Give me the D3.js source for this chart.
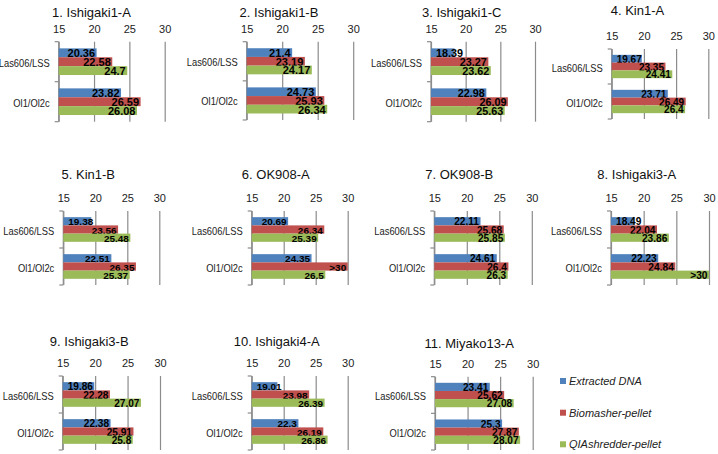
<!DOCTYPE html>
<html>
<head>
<meta charset="utf-8">
<script src="https://cdn.jsdelivr.net/npm/d3@7"></script>
<style>
  body { margin: 0; background: #fff; }
  svg { display: block; }
</style>
</head>
<body>
<svg id="chart" width="718" height="454"></svg>
<script>
// ---- data ----
var panelTitles = ["1. Ishigaki1-A", "2. Ishigaki1-B", "3. Ishigaki1-C", "4. Kin1-A",
  "5. Kin1-B", "6. OK908-A", "7. OK908-B", "8. Ishigaki3-A",
  "9. Ishigaki3-B", "10. Ishigaki4-A", "11. Miyako13-A"];
var categories = ["Las606/LSS", "Ol1/Ol2c"];
var seriesNames = ["Extracted DNA", "Biomasher-pellet", "QIAshredder-pellet"];
var xTicks = [15, 20, 25, 30];

// per panel: [Las606/LSS, Ol1/Ol2c]
var extractedDNA = [[20.36, 23.82], [21.4, 24.73], [18.39, 22.98], [19.67, 23.71],
  [19.38, 22.51], [20.69, 24.35], [22.11, 24.61], [18.49, 22.23],
  [19.86, 22.38], [19.01, 22.3], [23.41, 25.3]];
var biomasher = [[22.58, 26.59], [23.19, 25.93], [23.27, 26.09], [23.35, 26.49],
  [23.56, 26.35], [26.34, ">30"], [25.68, 26.4], [22.04, 24.84],
  [22.28, 25.91], [23.98, 26.19], [25.62, 27.87]];
var qiashredder = [[24.7, 26.08], [24.17, 26.34], [23.62, 25.63], [24.41, 26.4],
  [25.48, 25.37], [25.39, 26.5], [25.85, 26.3], [23.86, ">30"],
  [27.07, 25.8], [26.39, 26.86], [27.08, 28.07]];

// ---- layout (pixel boxes of each small chart) ----
// [x at 15, x at 30, plot top, plot bottom, title x, title y]
var layout = [
  [58.7, 164.7, 41.7, 121.7, 91.5, 12],
  [246.7, 353.2, 41.7, 120, 279, 12],
  [431, 535, 41.7, 121.7, 461.7, 12],
  [611.7, 708.3, 49, 119, 637.5, 10],
  [63.3, 159.3, 211, 285, 88.3, 174],
  [251.7, 347.7, 211, 285, 275.8, 174],
  [434.3, 531.8, 211, 285, 459.2, 174],
  [611, 709, 211, 285, 636.7, 174],
  [62.7, 160, 376, 450, 89.2, 341],
  [251.7, 347.7, 376, 450, 276.7, 341],
  [435, 532.7, 376.7, 450, 469.2, 343]
];
var colors = ["#4f81bd", "#c0504d", "#9bbb59"];
var axisColor = "#8c8c8c";

var svg = d3.select("#chart");
var allSeries = [extractedDNA, biomasher, qiashredder];

function numVal(v) { return typeof v === "string" ? 30 : v; }

panelTitles.forEach(function(title, i) {
  var L = layout[i];
  var x = d3.scaleLinear().domain([15, 30]).range([L[0], L[1]]);
  var y = d3.scaleBand().domain(categories).range([L[2], L[3]]);
  var ys = d3.scaleBand().domain(d3.range(3)).range([0, y.bandwidth()]).paddingOuter(0.75);
  var scale = (L[1] - L[0]) / 106;
  var g = svg.append("g").attr("class", "panel");

  g.append("text")
    .attr("x", L[4]).attr("y", L[5])
    .attr("text-anchor", "middle").attr("dominant-baseline", "central")
    .attr("font-family", "Liberation Sans, Arial, sans-serif")
    .attr("font-size", 13).attr("fill", "#111")
    .text(title);

  // gridlines + tick labels
  var ax = g.append("g").attr("transform", "translate(0," + L[2] + ")")
    .call(d3.axisTop(x).tickValues(xTicks).tickSize(-(L[3] - L[2])).tickPadding(9));
  ax.select(".domain").remove();
  ax.selectAll(".tick line").attr("stroke", axisColor).attr("stroke-width", 1.2);
  ax.selectAll(".tick text")
    .attr("font-family", "Liberation Sans, Arial, sans-serif")
    .attr("font-size", 11).attr("fill", "#222");

  // left axis with boundary ticks
  g.append("line")
    .attr("x1", x(15)).attr("x2", x(15)).attr("y1", L[2]).attr("y2", L[3])
    .attr("stroke", axisColor).attr("stroke-width", 1.2);
  var bounds = categories.map(function(c) { return y(c); }).concat([L[3]]);
  g.selectAll(".btick").data(bounds).enter().append("line")
    .attr("x1", x(15) - 4).attr("x2", x(15))
    .attr("y1", function(d) { return d; }).attr("y2", function(d) { return d; })
    .attr("stroke", axisColor).attr("stroke-width", 1.2);

  // category labels, squeezed a little to mimic the narrow original face
  g.selectAll(".cat").data(categories).enter().append("text")
    .attr("x", x(15) - 9)
    .attr("y", function(d) { return y(d) + y.bandwidth() / 2 + 1; })
    .attr("text-anchor", "end").attr("dominant-baseline", "central")
    .attr("font-family", "Liberation Sans, Arial, sans-serif")
    .attr("font-size", 11).attr("fill", "#222")
    .text(function(d) { return d; })
    .each(function() {
      var w = this.getComputedTextLength();
      d3.select(this).attr("textLength", w * 0.85).attr("lengthAdjust", "spacingAndGlyphs");
    });

  categories.forEach(function(c, ci) {
    allSeries.forEach(function(series, si) {
      var raw = series[i][ci];
      var v = numVal(raw);
      var by = y(c) + ys(si);
      g.append("rect")
        .attr("x", x(15)).attr("y", by)
        .attr("width", x(v) - x(15)).attr("height", ys.bandwidth())
        .attr("fill", colors[si]);
      var t = g.append("text")
        .attr("y", by + ys.bandwidth() / 2 + 0.5)
        .attr("dominant-baseline", "central")
        .attr("font-family", "Liberation Sans, Arial, sans-serif")
        .attr("font-weight", "bold")
        .attr("font-size", 11 * scale).attr("fill", "#000")
        .text(raw);
      var w = t.node().getComputedTextLength();
      var tx = x(v) - 1.5 - w;
      if (tx < x(15) + 5) tx = x(15) + 5;
      t.attr("x", tx);
    });
  });
});

// legend
var legend = svg.append("g").attr("class", "legend");
var legendY = [381, 412.7, 444.3];
seriesNames.forEach(function(name, i) {
  legend.append("rect")
    .attr("x", 560).attr("y", legendY[i] - 3).attr("width", 6).attr("height", 6)
    .attr("fill", colors[i]);
  legend.append("text")
    .attr("x", 569).attr("y", legendY[i])
    .attr("dominant-baseline", "central")
    .attr("font-family", "Liberation Sans, Arial, sans-serif")
    .attr("font-style", "italic")
    .attr("font-size", 11).attr("fill", "#222")
    .text(name);
});
</script>
</body>
</html>
